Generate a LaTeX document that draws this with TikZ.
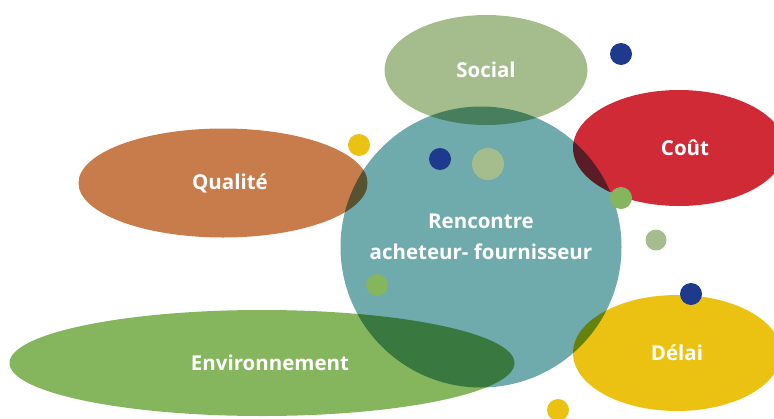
\documentclass[tikz,border=0pt]{standalone}
\usepackage{fontspec}
\setmainfont{Open Sans}
\usetikzlibrary{shapes.geometric}
\definecolor{rencontre}{HTML}{6FAAAD}
\definecolor{social}{HTML}{A5BD8C}
\definecolor{cout}{HTML}{D12A37}
\definecolor{qualite}{HTML}{C87C4B}
\definecolor{delai}{HTML}{EBC212}
\definecolor{environ}{HTML}{85B55D}
\definecolor{pastille}{HTML}{1E3A8C}
\begin{document}
\begin{tikzpicture}[x=1pt,y=-1pt,
	blob/.style={ellipse,inner sep=0,fill=#1},
	dot/.style={circle,inner sep=0,minimum size=22pt,fill=#1},
	lbl/.style={text=white,font=\bfseries\fontsize{20.5}{31}\selectfont,align=center}]
\useasboundingbox (0,0) rectangle (774,418);
% les bulles, en multiplication
\begin{scope}[blend mode=multiply]
\node[blob=rencontre,circle,minimum size=281pt] (renc) at (481,247) {};
\node[blob=social,minimum width=203pt,minimum height=110pt] (soc) at (486,70) {};
\node[blob=cout,minimum width=212pt,minimum height=116pt] (cou) at (679,148) {};
\node[blob=qualite,minimum width=289pt,minimum height=109pt] (qua) at (223,183) {};
\node[blob=delai,minimum width=208pt,minimum height=116pt] (del) at (677,353) {};
\node[blob=environ,minimum width=505pt,minimum height=106pt] (env) at (262,363) {};
\end{scope}
% pastilles
\node[dot=delai] (p1) at (359,145) {};
\node[dot=pastille] (p2) at (440,159) {};
\node[dot=social,minimum size=32pt] (p3) at (488,164) {};
\node[dot=pastille] (p4) at (621,54) {};
\node[dot=environ] (p5) at (621,198) {};
\node[dot=social,minimum size=21pt] (p6) at (656,240) {};
\node[dot=environ] (p7) at (377,285) {};
\node[dot=pastille] (p8) at (691,294) {};
\node[dot=delai] (p9) at (558,410) {};
% textes
\node[lbl] at (renc.center) [yshift=10pt] {Rencontre\\acheteur- fournisseur};
\node[lbl] at (soc.center) {Social};
\node[lbl] at ([xshift=6pt]cou.center) {Coût};
\node[lbl] at ([xshift=7pt]qua.center) {Qualité};
\node[lbl] at (del.center) {Délai};
\node[lbl] at ([xshift=8pt]env.center) {Environnement};
\end{tikzpicture}
\end{document}
